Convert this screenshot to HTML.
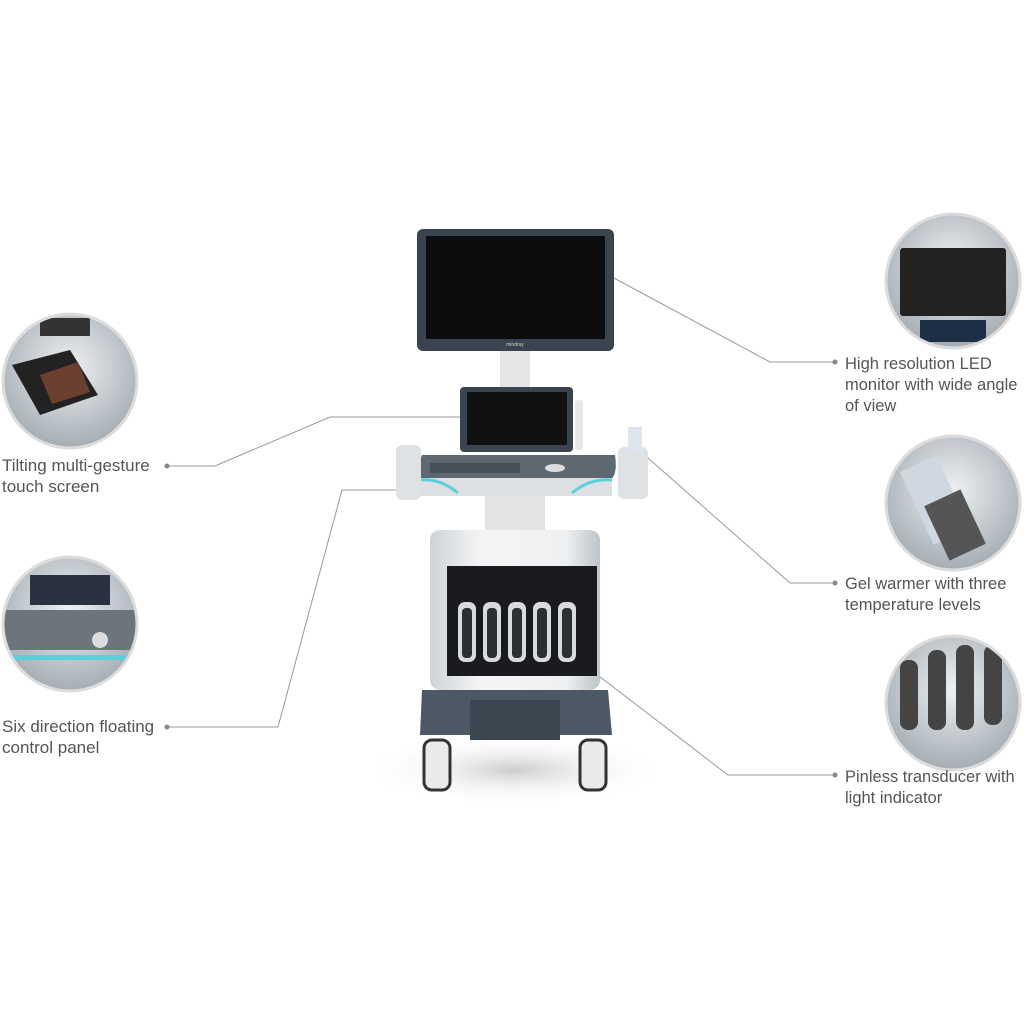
<!DOCTYPE html>
<html><head><meta charset="utf-8"><style>
html,body{margin:0;padding:0;background:#fff;}
svg{display:block;}
text{font-family:"Liberation Sans",sans-serif;font-size:16.5px;fill:#555;}
</style></head><body>
<svg width="1024" height="1024" viewBox="0 0 1024 1024" xmlns="http://www.w3.org/2000/svg">
<defs>
<radialGradient id="cg" cx="50%" cy="40%" r="60%"><stop offset="0" stop-color="#eef1f3"/><stop offset="1" stop-color="#a5adb3"/></radialGradient>
<radialGradient id="sh" cx="50%" cy="50%" r="50%"><stop offset="0" stop-color="#ccc"/><stop offset="1" stop-color="#fff" stop-opacity="0"/></radialGradient>
<linearGradient id="body" x1="0" x2="1"><stop offset="0" stop-color="#cfd3d6"/><stop offset=".3" stop-color="#f4f5f6"/><stop offset=".8" stop-color="#eef0f1"/><stop offset="1" stop-color="#bfc4c8"/></linearGradient>
<clipPath id="c1"><circle cx="70" cy="381" r="66"/></clipPath>
<clipPath id="c2"><circle cx="70" cy="624" r="66"/></clipPath>
<clipPath id="c3"><circle cx="953" cy="281" r="66"/></clipPath>
<clipPath id="c4"><circle cx="953" cy="503" r="66"/></clipPath>
<clipPath id="c5"><circle cx="953" cy="703" r="66"/></clipPath>
</defs>
<g stroke="#999" stroke-width="1" fill="none">
<polyline points="612,277 770,362 835,362"/>
<polyline points="648,458 790,583 835,583"/>
<polyline points="565,650 728,775 835,775"/>
<polyline points="167,466 215,466 330,417 460,417"/>
<polyline points="167,727 278,727 342,490 405,490"/>
</g>
<g fill="#888"><circle cx="835" cy="362" r="2.5"/><circle cx="835" cy="583" r="2.5"/><circle cx="835" cy="775" r="2.5"/><circle cx="167" cy="466" r="2.5"/><circle cx="167" cy="727" r="2.5"/></g>
<g fill="url(#cg)">
<circle cx="70" cy="381" r="67"/><circle cx="70" cy="624" r="67"/><circle cx="953" cy="281" r="67"/><circle cx="953" cy="503" r="67"/><circle cx="953" cy="703" r="67"/>
</g>
<g clip-path="url(#c1)"><polygon points="12,365 70,350 98,395 40,415" fill="#222"/><polygon points="40,375 78,362 90,392 52,404" fill="#6b4030"/><rect x="40" y="318" width="50" height="18" fill="#333"/></g>
<g clip-path="url(#c2)"><rect x="30" y="575" width="80" height="30" fill="#2a3140"/><rect x="0" y="610" width="140" height="40" fill="#6d747a"/><circle cx="100" cy="640" r="8" fill="#ddd"/><rect x="0" y="655" width="140" height="5" fill="#5ad0da"/></g>
<g clip-path="url(#c3)"><rect x="900" y="248" width="106" height="68" fill="#222" rx="3"/><rect x="920" y="320" width="66" height="22" fill="#1d2f44"/></g>
<g clip-path="url(#c4)"><rect x="915" y="460" width="40" height="80" fill="#cfd8e0" transform="rotate(-25 935 500)"/><rect x="935" y="495" width="40" height="60" fill="#555" transform="rotate(-25 955 525)"/></g>
<g clip-path="url(#c5)" fill="#444"><rect x="900" y="660" width="18" height="70" rx="8"/><rect x="928" y="650" width="18" height="80" rx="8"/><rect x="956" y="645" width="18" height="85" rx="8"/><rect x="984" y="645" width="18" height="80" rx="8"/></g>
<g fill="none" stroke="#dcdcdc" stroke-width="3">
<circle cx="70" cy="381" r="67"/><circle cx="70" cy="624" r="67"/><circle cx="953" cy="281" r="67"/><circle cx="953" cy="503" r="67"/><circle cx="953" cy="703" r="67"/>
</g>
<ellipse cx="515" cy="770" rx="150" ry="35" fill="url(#sh)"/>
<rect x="500" y="350" width="30" height="45" fill="#e4e6e8"/>
<rect x="417" y="229" width="197" height="122" rx="6" fill="#3a4450"/>
<rect x="426" y="236" width="179" height="103" fill="#0c0d0f"/>
<text x="515" y="346" text-anchor="middle" style="fill:#ccc;font-size:5px">mindray</text>
<rect x="460" y="387" width="113" height="65" rx="4" fill="#3a4350"/>
<rect x="467" y="392" width="100" height="53" fill="#111"/>
<rect x="575" y="400" width="8" height="50" rx="3" fill="#e8e8e8"/>
<path d="M422 455 L615 455 Q618 475 610 480 L420 480 Q415 470 422 455Z" fill="#5d6870"/>
<path d="M418 478 L612 478 L612 496 L418 496Z" fill="#dde0e2"/>
<path d="M420 480 Q440 478 458 493" stroke="#5ad0da" stroke-width="3" fill="none"/>
<path d="M612 480 Q590 478 572 493" stroke="#5ad0da" stroke-width="3" fill="none"/>
<rect x="430" y="463" width="90" height="10" fill="#465058"/>
<ellipse cx="555" cy="468" rx="10" ry="4" fill="#ddd"/>
<rect x="396" y="445" width="25" height="55" rx="6" fill="#dfe2e4"/>
<rect x="618" y="447" width="30" height="52" rx="6" fill="#dfe2e4"/>
<rect x="628" y="427" width="14" height="25" fill="#dde6ee"/>
<rect x="485" y="496" width="60" height="45" fill="#e2e4e6"/>
<rect x="430" y="530" width="170" height="160" rx="10" fill="url(#body)"/>
<rect x="447" y="566" width="150" height="110" fill="#1a1b1e"/>
<g fill="#d8dadc"><rect x="458" y="602" width="18" height="60" rx="7"/><rect x="483" y="602" width="18" height="60" rx="7"/><rect x="508" y="602" width="18" height="60" rx="7"/><rect x="533" y="602" width="18" height="60" rx="7"/><rect x="558" y="602" width="18" height="60" rx="7"/></g>
<g fill="#2b2f36"><rect x="462" y="608" width="10" height="50" rx="4"/><rect x="487" y="608" width="10" height="50" rx="4"/><rect x="512" y="608" width="10" height="50" rx="4"/><rect x="537" y="608" width="10" height="50" rx="4"/><rect x="562" y="608" width="10" height="50" rx="4"/></g>
<path d="M422 690 L608 690 L612 735 L420 735Z" fill="#4c5866"/>
<rect x="470" y="700" width="90" height="40" fill="#3c4650"/>
<rect x="424" y="740" width="26" height="50" rx="8" fill="#e8eaec" stroke="#333" stroke-width="3"/>
<rect x="580" y="740" width="26" height="50" rx="8" fill="#e8eaec" stroke="#333" stroke-width="3"/>
<text x="845" y="369">High resolution LED</text>
<text x="845" y="390">monitor with wide angle</text>
<text x="845" y="411">of view</text>
<text x="845" y="589">Gel warmer with three</text>
<text x="845" y="610">temperature levels</text>
<text x="845" y="782">Pinless transducer with</text>
<text x="845" y="803">light indicator</text>
<text x="2" y="471" style="font-size:17px">Tilting multi-gesture</text>
<text x="2" y="492" style="font-size:17px">touch screen</text>
<text x="2" y="732" style="font-size:17px">Six direction floating</text>
<text x="2" y="753" style="font-size:17px">control panel</text>
</svg>
</body></html>
